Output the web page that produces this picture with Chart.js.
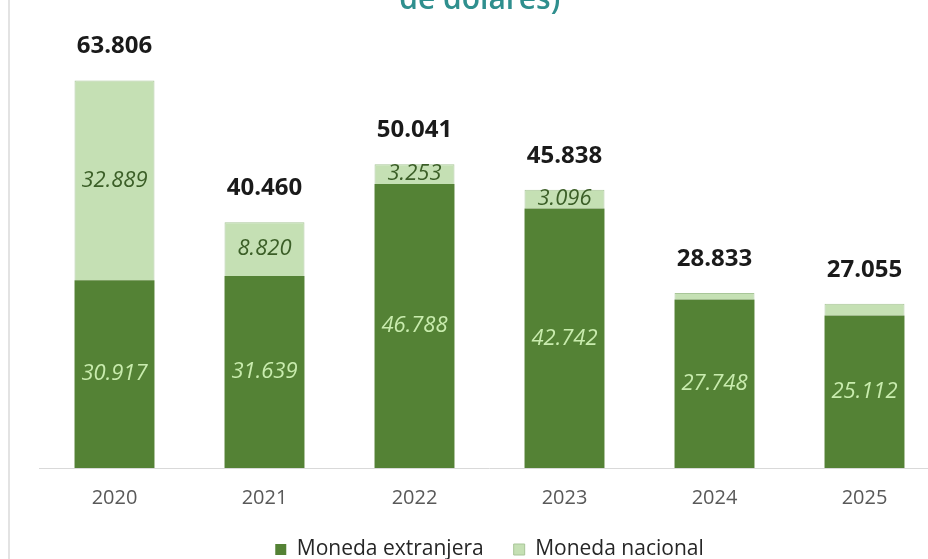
<!DOCTYPE html>
<html>
<head>
<meta charset="utf-8">
<script src="https://cdn.jsdelivr.net/npm/chart.js@4"></script>
<style>
  html, body { margin: 0; padding: 0; background: #ffffff; overflow: hidden; width: 928px; height: 559px; }
  #frame { position: absolute; left: 8px; top: 0; width: 0; height: 559px; border-left: 2px solid #e3e3e3; }
  #wrap { position: absolute; left: 0; top: -18px; width: 960px; height: 588px; }
</style>
</head>
<body>
<div id="frame"></div>
<div id="wrap"><canvas id="c" width="960" height="588"></canvas></div>
<script>
const categories = ['2020', '2021', '2022', '2023', '2024', '2025'];
const monedaExtranjera = [30917, 31639, 46788, 42742, 27748, 25112];
const monedaNacional = [32889, 8820, 3253, 3096, 1085, 1943];
const totals = [63806, 40460, 50041, 45838, 28833, 27055];
const seriesNames = ['Moneda extranjera', 'Moneda nacional'];
const titleText = 'de dólares)';

const fmt = v => v.toLocaleString('de-DE');

const labelsPlugin = {
  id: 'barLabels',
  afterDraw(chart) {
    const ctx = chart.ctx;
    ctx.save();
    ctx.textAlign = 'center';
    ctx.textBaseline = 'middle';
    const m0 = chart.getDatasetMeta(0);
    const m1 = chart.getDatasetMeta(1);
    [m0, m1].forEach((meta, di) => {
      meta.data.forEach((bar, i) => {
        const h = Math.abs(bar.base - bar.y);
        if (h < 16) return;
        const v = chart.data.datasets[di].data[i];
        ctx.font = 'italic 22px "Open Sans"';
        ctx.fillStyle = di === 0 ? '#c9ecae' : '#3b5e27';
        ctx.fillText(fmt(v), bar.x, (bar.y + bar.base) / 2);
      });
    });
    m1.data.forEach((bar, i) => {
      ctx.font = 'bold 24px "Open Sans"';
      ctx.fillStyle = '#1a1a1a';
      ctx.fillText(fmt(totals[i]), bar.x, bar.y - 34);
    });
    ctx.restore();
  }
};

new Chart(document.getElementById('c'), {
  type: 'bar',
  data: {
    labels: categories,
    datasets: [
      {
        label: seriesNames[0],
        data: monedaExtranjera,
        backgroundColor: '#548235',
        borderWidth: 0,
        barPercentage: 0.533,
        categoryPercentage: 1.0
      },
      {
        label: seriesNames[1],
        data: monedaNacional,
        backgroundColor: '#c5e0b4',
        borderColor: '#a8c698',
        borderWidth: 1,
        borderSkipped: 'bottom',
        barPercentage: 0.533,
        categoryPercentage: 1.0
      }
    ]
  },
  options: {
    responsive: false,
    animation: false,
    devicePixelRatio: 1,
    layout: { padding: { left: 20, right: 20.5, top: 0, bottom: 0 } },
    plugins: {
      title: {
        display: true,
        text: titleText,
        color: '#2f8f8e',
        font: { family: '"Open Sans"', size: 30, weight: '600', lineHeight: 1.2 },
        padding: { top: 0, bottom: 25 }
      },
      legend: {
        display: true,
        position: 'bottom',
        fullSize: false,
        labels: {
          font: { family: '"Open Sans"', size: 21 },
          color: '#262626',
          boxWidth: 11,
          boxHeight: 11,
          padding: 30
        }
      },
      tooltip: { enabled: false }
    },
    scales: {
      x: {
        stacked: true,
        grid: { display: false, drawTicks: false },
        border: { display: true, color: '#d9d9d9', width: 1 },
        ticks: { font: { family: '"Open Sans"', size: 20, lineHeight: 1.2 }, color: '#595959', padding: 18 },
        afterFit(scale) { scale.height = 41; }
      },
      y: {
        stacked: true,
        display: true,
        min: 0,
        max: 70000,
        grid: { display: false, drawTicks: false },
        border: { display: false },
        ticks: { display: false },
        afterFit(scale) { scale.width = 19.5; }
      }
    }
  },
  plugins: [labelsPlugin]
});
</script>
</body>
</html>
